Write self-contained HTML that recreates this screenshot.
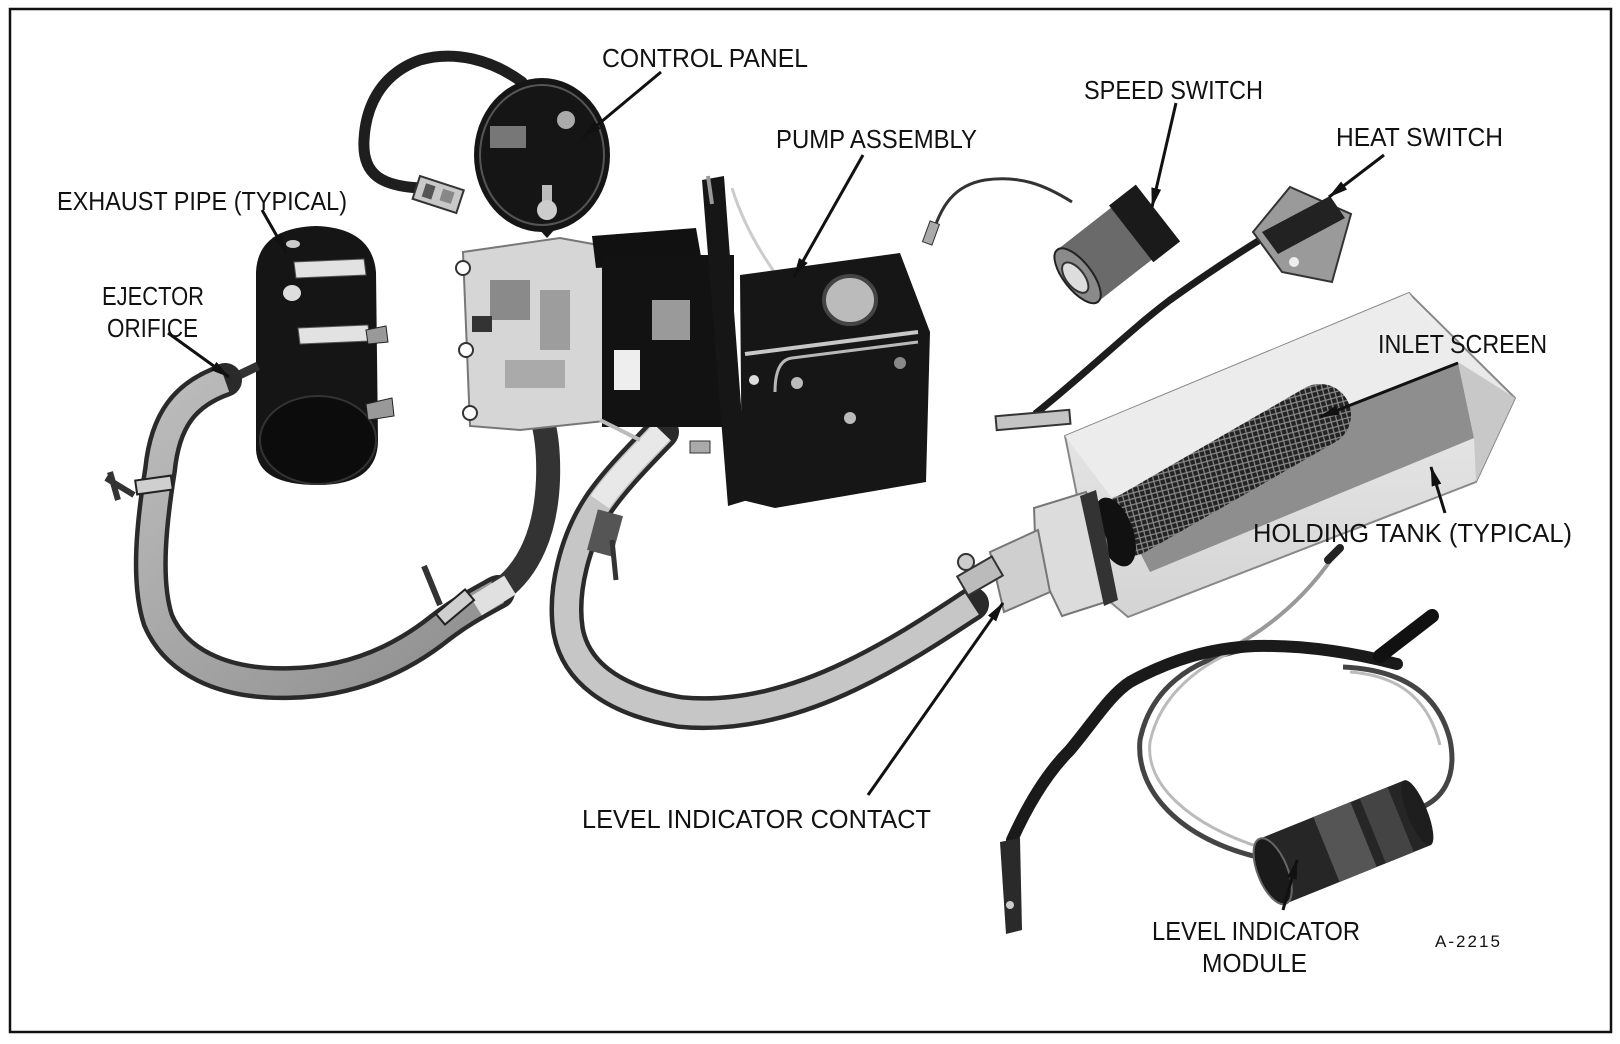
<!DOCTYPE html>
<html><head><meta charset="utf-8"><style>
html,body{margin:0;padding:0;background:#fff;}
svg{display:block;}
text{font-family:"Liberation Sans",sans-serif;fill:#111;}
</style></head><body>
<svg width="1620" height="1044" viewBox="0 0 1620 1044" xmlns="http://www.w3.org/2000/svg">
<defs>
<marker id="ar" markerWidth="20" markerHeight="11" refX="19" refY="5.5" orient="auto" markerUnits="userSpaceOnUse"><path d="M0,0.5 L20,5.5 L0,10.5 Z" fill="#111"/></marker>
<pattern id="mesh" width="8" height="8" patternUnits="userSpaceOnUse" patternTransform="rotate(30)">
<rect width="8" height="8" fill="#222"/><path d="M0,0 L8,8 M8,0 L0,8" stroke="#888" stroke-width="1.3"/></pattern>
<linearGradient id="hoseg" x1="0" y1="0" x2="1" y2="1"><stop offset="0" stop-color="#bdbdbd"/><stop offset="1" stop-color="#8d8d8d"/></linearGradient>
<linearGradient id="tankg" x1="0" y1="0" x2="0" y2="1"><stop offset="0" stop-color="#f0f0f0"/><stop offset="1" stop-color="#d4d4d4"/></linearGradient>
</defs>

<rect x="10" y="9" width="1601" height="1023" fill="none" stroke="#111" stroke-width="2.5"/>

<!-- control panel cable -->
<path d="M420,188 C382,186 362,175 364,140 C366,100 386,72 420,60 C455,50 492,60 522,82" fill="none" stroke="#1e1e1e" stroke-width="11" stroke-linecap="round"/>
<g transform="translate(420,176) rotate(18)"><rect x="0" y="0" width="46" height="24" fill="#c8c8c8" stroke="#333" stroke-width="2"/><rect x="8" y="5" width="10" height="14" fill="#555"/><rect x="26" y="5" width="12" height="12" fill="#888"/></g>
<!-- gauge -->
<ellipse cx="542" cy="155" rx="68" ry="77" fill="#151515"/>
<ellipse cx="542" cy="155" rx="62" ry="70" fill="none" stroke="#555" stroke-width="2"/>
<rect x="490" y="126" width="36" height="22" fill="#777"/>
<circle cx="566" cy="120" r="9" fill="#aaa"/>
<rect x="542" y="185" width="10" height="22" fill="#bbb"/>
<circle cx="547" cy="210" r="10" fill="#ccc"/>
<path d="M538,228 L547,238 L556,228Z" fill="#151515"/>

<!-- exhaust cylinder -->
<path d="M256,470 L256,272 Q258,228 316,226 Q372,228 376,272 L378,440 Q378,485 318,485 Q258,485 256,450 Z" fill="#151515"/>
<ellipse cx="318" cy="440" rx="58" ry="44" fill="#0c0c0c" stroke="#333" stroke-width="2"/>
<path d="M294,262 L364,259 L366,275 L296,278 Z" fill="#e2e2e2" stroke="#555"/>
<path d="M298,328 L368,325 L370,341 L300,344 Z" fill="#e2e2e2" stroke="#555"/>
<path d="M366,330 L386,326 L388,342 L368,344Z" fill="#999" stroke="#222"/>
<path d="M366,404 L392,398 L394,416 L368,420Z" fill="#999" stroke="#222"/>
<ellipse cx="292" cy="293" rx="9" ry="8" fill="#ddd"/>
<ellipse cx="293" cy="244" rx="7" ry="4" fill="#ccc"/>
<path d="M212,388 L258,366" stroke="#333" stroke-width="9"/>

<!-- left hose -->
<path d="M225,380 C185,394 165,420 160,470 C152,520 145,580 158,620 C175,660 220,685 290,683 C350,682 400,660 440,628 C462,611 480,602 498,592" fill="none" stroke="#2a2a2a" stroke-width="34" stroke-linecap="round"/>
<path d="M225,380 C185,394 165,420 160,470 C152,520 145,580 158,620 C175,660 220,685 290,683 C350,682 400,660 440,628 C462,611 480,602 498,592" fill="none" stroke="url(#hoseg)" stroke-width="25"/>
<path d="M498,592 C530,570 546,530 548,480 C549,450 546,432 542,418" fill="none" stroke="#333" stroke-width="24"/>
<path d="M476,606 L510,585" stroke="#e0e0e0" stroke-width="22"/>
<rect x="136" y="478" width="36" height="14" fill="#cfcfcf" stroke="#222" stroke-width="2" transform="rotate(-8 154 485)"/>
<path d="M106,478 L134,495 M110,472 L118,500" stroke="#333" stroke-width="6"/>
<rect x="436" y="600" width="38" height="14" fill="#cfcfcf" stroke="#222" stroke-width="2" transform="rotate(-40 455 607)"/>
<path d="M424,566 L440,605" stroke="#333" stroke-width="6"/>

<!-- right hose -->
<path d="M662,432 C640,455 615,480 598,505 C575,540 562,590 568,630 C575,670 610,700 680,712 C740,718 800,700 850,676 C900,652 940,625 972,604" fill="none" stroke="#2a2a2a" stroke-width="34" stroke-linecap="round"/>
<path d="M662,432 C640,455 615,480 598,505 C575,540 562,590 568,630 C575,670 610,700 680,712 C740,718 800,700 850,676 C900,652 940,625 972,604" fill="none" stroke="#c6c6c6" stroke-width="25"/>
<path d="M662,432 C640,455 615,480 600,502" fill="none" stroke="#e8e8e8" stroke-width="22"/>
<rect x="592" y="512" width="26" height="42" fill="#555" transform="rotate(15 605 533)"/>
<path d="M612,540 L616,580" stroke="#333" stroke-width="5"/>

<!-- pump assembly -->
<path d="M463,252 L560,238 L604,246 L614,420 L520,430 L470,426 Z" fill="#d6d6d6" stroke="#777" stroke-width="2"/>
<rect x="490" y="280" width="40" height="40" fill="#8a8a8a"/>
<rect x="540" y="290" width="30" height="60" fill="#9d9d9d"/>
<rect x="505" y="360" width="60" height="28" fill="#aaa"/>
<circle cx="463" cy="268" r="7" fill="#fff" stroke="#333" stroke-width="2"/>
<circle cx="466" cy="350" r="7" fill="#fff" stroke="#333" stroke-width="2"/>
<circle cx="470" cy="413" r="7" fill="#fff" stroke="#333" stroke-width="2"/>
<rect x="472" y="316" width="20" height="16" fill="#333"/>
<path d="M592,236 L696,228 L702,262 L596,268 Z" fill="#111"/>
<rect x="602" y="255" width="132" height="172" fill="#121212"/>
<rect x="652" y="300" width="38" height="40" fill="#9a9a9a"/>
<rect x="614" y="350" width="26" height="40" fill="#eee"/>
<path d="M702,180 L724,176 L748,500 L728,506 Z" fill="#161616"/>
<path d="M708,176 L712,204" stroke="#999" stroke-width="4"/>
<path d="M732,188 C745,230 770,270 800,305" stroke="#ccc" stroke-width="3" fill="none"/>
<path d="M740,275 L900,253 L930,332 L926,482 L775,508 L742,500 Z" fill="#161616"/>
<path d="M745,354 L918,332" stroke="#c8c8c8" stroke-width="4"/>
<path d="M775,392 Q775,360 792,358 L918,342" stroke="#b8b8b8" stroke-width="3" fill="none"/>
<ellipse cx="850" cy="300" rx="26" ry="24" fill="#bbb" stroke="#444" stroke-width="4"/>
<circle cx="797" cy="383" r="6" fill="#bbb"/>
<circle cx="900" cy="363" r="6" fill="#888"/>
<circle cx="850" cy="418" r="6" fill="#bbb"/>
<circle cx="754" cy="380" r="5" fill="#ddd"/>
<rect x="690" y="441" width="20" height="12" fill="#aaa" stroke="#333"/>
<path d="M600,420 L640,440" stroke="#bbb" stroke-width="4"/>

<!-- speed switch -->
<path d="M931,240 C940,205 955,185 985,180 C1020,175 1045,185 1072,202" fill="none" stroke="#333" stroke-width="3"/>
<rect x="926" y="222" width="10" height="22" fill="#aaa" stroke="#333" transform="rotate(20 931 233)"/>
<g transform="translate(1117,245) rotate(-38)">
<rect x="-50" y="-33" width="95" height="66" fill="#6a6a6a"/>
<rect x="18" y="-36" width="34" height="72" fill="#1a1a1a"/>
<ellipse cx="-50" cy="0" rx="14" ry="33" fill="#8a8a8a" stroke="#222" stroke-width="2"/>
<ellipse cx="-53" cy="0" rx="9" ry="18" fill="#ddd" stroke="#333" stroke-width="2"/>
</g>

<!-- heat switch -->
<path d="M1035,414 C1090,370 1130,330 1170,300 C1205,275 1235,255 1268,235" fill="none" stroke="#1c1c1c" stroke-width="7"/>
<g transform="rotate(-5 1033 420)"><rect x="996" y="413" width="74" height="14" fill="#c4c4c4" stroke="#333" stroke-width="2"/></g>
<path d="M1253,232 L1290,187 L1351,214 L1332,282 L1282,272 Z" fill="#9a9a9a" stroke="#333" stroke-width="2"/>
<path d="M1262,232 L1330,196 L1345,218 L1278,254 Z" fill="#222"/>
<circle cx="1294" cy="262" r="5" fill="#eee"/>

<!-- holding tank -->
<path d="M1065,436 L1409,293 L1515,398 L1476,482 L1128,617 L1096,590 Z" fill="url(#tankg)" stroke="#888" stroke-width="2"/>
<path d="M1065,436 L1409,293 L1458,362 L1112,498 Z" fill="#ececec"/>
<path d="M1112,498 L1458,362 L1474,438 L1150,572 Z" fill="#8e8e8e"/>
<path d="M1458,362 L1515,398 L1476,482 L1474,438 Z" fill="#c8c8c8"/>
<path d="M1130,525 L1320,415" stroke="url(#mesh)" stroke-width="62" stroke-linecap="round"/>
<ellipse cx="1115" cy="532" rx="18" ry="36" fill="#111" transform="rotate(-20 1115 532)"/>
<!-- fitting -->
<path d="M1034,508 L1086,492 L1106,540 L1112,600 L1062,616 L1036,562 Z" fill="#dcdcdc" stroke="#777" stroke-width="2"/>
<path d="M1080,496 L1096,490 L1118,600 L1104,606 Z" fill="#333"/>
<path d="M990,552 L1038,530 L1050,592 L1004,612 Z" fill="#cfcfcf" stroke="#777" stroke-width="2"/>
<rect x="960" y="565" width="40" height="22" fill="#bbb" stroke="#333" stroke-width="2" transform="rotate(-30 980 576)"/>
<circle cx="966" cy="562" r="8" fill="#ccc" stroke="#333" stroke-width="2"/>

<!-- level indicator module -->
<path d="M1333,557 C1310,590 1280,620 1240,643" fill="none" stroke="#999" stroke-width="4"/>
<path d="M1328,560 L1340,548" stroke="#222" stroke-width="8" stroke-linecap="round"/>
<path d="M1243,650 C1190,660 1150,690 1140,740 C1135,790 1180,840 1262,858" fill="none" stroke="#444" stroke-width="5"/>
<path d="M1250,645 C1200,662 1160,695 1150,742 C1145,785 1190,825 1262,848" fill="none" stroke="#bbb" stroke-width="3"/>
<path d="M1343,667 C1410,670 1440,700 1450,740 C1458,780 1440,800 1420,808" fill="none" stroke="#444" stroke-width="5"/>
<path d="M1350,672 C1405,676 1430,705 1440,745" fill="none" stroke="#bbb" stroke-width="3"/>
<path d="M1012,840 C1030,800 1050,770 1070,750 C1095,720 1110,695 1130,682 C1170,660 1210,648 1255,646 C1300,645 1350,652 1397,664" fill="none" stroke="#1a1a1a" stroke-width="12" stroke-linecap="round"/>
<path d="M1380,656 L1432,616" stroke="#111" stroke-width="14" stroke-linecap="round"/>
<path d="M1000,842 L1020,838 L1022,930 L1006,934 Z" fill="#2a2a2a"/>
<circle cx="1010" cy="905" r="4" fill="#ccc"/>
<g transform="translate(1345,842) rotate(-22)">
<rect x="-78" y="-35" width="156" height="70" fill="#262626"/>
<rect x="-20" y="-35" width="40" height="70" fill="#555"/>
<rect x="30" y="-35" width="30" height="70" fill="#444"/>
<ellipse cx="-78" cy="0" rx="15" ry="35" fill="#1a1a1a" stroke="#666" stroke-width="2"/>
<ellipse cx="78" cy="0" rx="10" ry="35" fill="#1e1e1e"/>
</g>

<!-- leader arrows -->
<g stroke="#111" stroke-width="3" fill="none" marker-end="url(#ar)">
<line x1="661" y1="72" x2="583" y2="137"/>
<line x1="863" y1="155" x2="794" y2="277"/>
<line x1="262" y1="210" x2="286" y2="252"/>
<line x1="168" y1="333" x2="229" y2="377"/>
<line x1="1176" y1="103" x2="1152" y2="207"/>
<line x1="1384" y1="155" x2="1329" y2="197"/>
<line x1="1458" y1="363" x2="1320" y2="417"/>
<line x1="1445" y1="513" x2="1431" y2="467"/>
<line x1="868" y1="795" x2="1003" y2="603"/>
<line x1="1283" y1="910" x2="1297" y2="860"/>
</g>

<!-- labels -->
<g font-size="26">
<text x="602" y="67" textLength="206" lengthAdjust="spacingAndGlyphs">CONTROL PANEL</text>
<text x="776" y="148" textLength="201" lengthAdjust="spacingAndGlyphs">PUMP ASSEMBLY</text>
<text x="1084" y="99" textLength="179" lengthAdjust="spacingAndGlyphs">SPEED SWITCH</text>
<text x="1336" y="146" textLength="167" lengthAdjust="spacingAndGlyphs">HEAT SWITCH</text>
<text x="57" y="210" textLength="290" lengthAdjust="spacingAndGlyphs">EXHAUST PIPE (TYPICAL)</text>
<text x="102" y="305" textLength="102" lengthAdjust="spacingAndGlyphs">EJECTOR</text>
<text x="107" y="337" textLength="91" lengthAdjust="spacingAndGlyphs">ORIFICE</text>
<text x="1378" y="353" textLength="169" lengthAdjust="spacingAndGlyphs">INLET SCREEN</text>
<text x="1253" y="542" textLength="319" lengthAdjust="spacingAndGlyphs">HOLDING TANK (TYPICAL)</text>
<text x="582" y="828" textLength="349" lengthAdjust="spacingAndGlyphs">LEVEL INDICATOR CONTACT</text>
<text x="1152" y="940" textLength="208" lengthAdjust="spacingAndGlyphs">LEVEL INDICATOR</text>
<text x="1202" y="972" textLength="105" lengthAdjust="spacingAndGlyphs">MODULE</text>
</g>
<text x="1435" y="947" font-size="17" textLength="65" lengthAdjust="spacing">A-2215</text>
</svg>
</body></html>
